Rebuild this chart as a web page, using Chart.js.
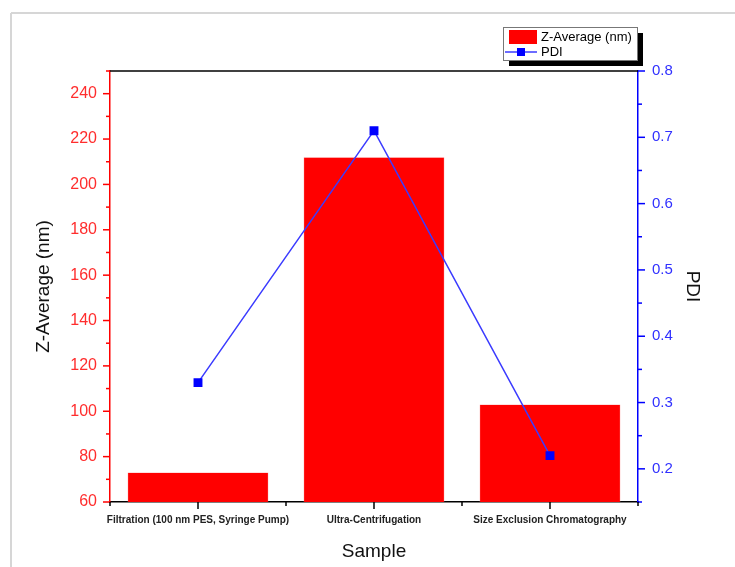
<!DOCTYPE html>
<html>
<head>
<meta charset="utf-8">
<title>Z-Average and PDI by sample</title>
<script src="https://cdn.jsdelivr.net/npm/chart.js@4.4.1/dist/chart.umd.min.js"></script>
<style>
  body { margin: 0; background: #fff; }
  #wrap { width: 735px; height: 567px; position: relative; }
</style>
</head>
<body>
<div id="wrap"><canvas id="chart" width="735" height="567"></canvas></div>
<script>
const categories = ['Filtration (100 nm PES, Syringe Pump)', 'Ultra-Centrifugation', 'Size Exclusion Chromatography'];
const zAverage = [73, 212, 103];
const pdi = [0.33, 0.71, 0.22];
const zRange = [60, 250];
const pdiRange = [0.15, 0.8];

const FONT = "'Liberation Sans', Arial, sans-serif";

// ticks, frame and legend drawn the way Origin does it
const originLook = {
    id: 'originLook',
    afterDraw(chart) {
        const { ctx, chartArea: a, scales } = chart;
        const line = (x1, y1, x2, y2) => {
            ctx.beginPath(); ctx.moveTo(x1, y1); ctx.lineTo(x2, y2); ctx.stroke();
        };
        ctx.save();

        // page frame
        ctx.strokeStyle = '#d6d6d6';
        ctx.lineWidth = 2;
        line(11, 13, 11, 567);
        line(11, 13, 735, 13);

        // top border
        ctx.strokeStyle = '#000';
        ctx.lineWidth = 1.5;
        line(a.left, a.top, a.right, a.top);

        // left ticks
        ctx.strokeStyle = '#ff0000';
        scales.y.ticks.forEach(t => {
            const py = scales.y.getPixelForValue(t.value);
            line(a.left - (t.label ? 7 : 4), py, a.left, py);
        });

        // right ticks
        ctx.strokeStyle = '#0000ff';
        scales.y1.ticks.forEach(t => {
            const py = scales.y1.getPixelForValue(t.value);
            line(a.right, py, a.right + (t.label ? 7 : 4), py);
        });

        // bottom ticks
        ctx.strokeStyle = '#000';
        const n = categories.length;
        const w = (a.right - a.left) / n;
        for (let i = 0; i <= n; i++) {
            line(a.left + i * w, a.bottom, a.left + i * w, a.bottom + 4);
        }
        categories.forEach((c, i) => {
            const px = scales.x.getPixelForValue(i);
            line(px, a.bottom, px, a.bottom + 7);
        });

        // legend
        const bars = chart.data.datasets.find(d => d.type === 'bar');
        const pts = chart.data.datasets.find(d => d.type === 'line');
        const lx = 503, ly = 27, lw = 134, lh = 33;
        ctx.fillStyle = '#000';
        ctx.fillRect(lx + 6, ly + 6, lw, lh);
        ctx.fillStyle = '#fff';
        ctx.fillRect(lx, ly, lw, lh);
        ctx.strokeStyle = '#777';
        ctx.lineWidth = 1;
        ctx.strokeRect(lx + 0.5, ly + 0.5, lw, lh);

        ctx.fillStyle = bars.backgroundColor;
        ctx.fillRect(lx + 6, ly + 3, 28, 14);
        ctx.strokeStyle = pts.borderColor;
        ctx.lineWidth = 1.5;
        line(lx + 2, ly + 25, lx + 34, ly + 25);
        ctx.fillStyle = pts.pointBackgroundColor;
        ctx.fillRect(lx + 14, ly + 21, 8, 8);

        ctx.fillStyle = '#000';
        ctx.font = '13px ' + FONT;
        ctx.textBaseline = 'middle';
        ctx.fillText(bars.label, lx + 38, ly + 10);
        ctx.fillText(pts.label, lx + 38, ly + 25);

        ctx.restore();
    }
};

new Chart(document.getElementById('chart'), {
    data: {
        labels: categories,
        datasets: [
            {
                type: 'line',
                label: 'PDI',
                data: pdi,
                yAxisID: 'y1',
                order: 0,
                borderColor: '#3b3bff',
                borderWidth: 1.5,
                pointStyle: 'rect',
                pointRadius: 6.3,
                pointBorderWidth: 0,
                pointBackgroundColor: '#0000ff',
                tension: 0
            },
            {
                type: 'bar',
                label: 'Z-Average (nm)',
                data: zAverage,
                yAxisID: 'y',
                order: 1,
                backgroundColor: '#ff0000',
                borderColor: '#ff8080',
                borderWidth: 0.5,
                barPercentage: 1,
                categoryPercentage: 0.8
            }
        ]
    },
    options: {
        responsive: false,
        animation: false,
        layout: { padding: { top: 71, left: 0, right: 0, bottom: 0 } },
        plugins: {
            legend: { display: false },
            tooltip: { enabled: false }
        },
        scales: {
            x: {
                offset: true,
                grid: { drawOnChartArea: false, tickLength: 7, tickColor: 'transparent' },
                border: { color: '#000', width: 1.5 },
                ticks: { color: '#222', font: { family: FONT, size: 10, weight: 'bold' }, padding: 5, maxRotation: 0, autoSkip: false },
                title: { display: true, text: 'Sample', color: '#111', font: { family: FONT, size: 19 }, padding: { top: 8 } },
                afterFit(scale) { scale.height = 65; }
            },
            y: {
                position: 'left',
                min: zRange[0],
                max: zRange[1],
                grid: { drawOnChartArea: false, tickLength: 7, tickColor: 'transparent' },
                border: { color: '#ff0000', width: 1.5 },
                ticks: {
                    stepSize: 10,
                    color: '#ff2d2d',
                    font: { family: FONT, size: 16 },
                    padding: 6,
                    callback: v => (v % 20 === 0 ? String(v) : '')
                },
                title: { display: true, text: 'Z-Average (nm)', color: '#111', font: { family: FONT, size: 19 }, padding: { top: 32 } },
                afterFit(scale) { scale.width = 110; }
            },
            y1: {
                position: 'right',
                min: pdiRange[0],
                max: pdiRange[1],
                grid: { drawOnChartArea: false, tickLength: 7, tickColor: 'transparent' },
                border: { color: '#0000ff', width: 1.5 },
                ticks: {
                    stepSize: 0.05,
                    color: '#3030ff',
                    font: { family: FONT, size: 15 },
                    padding: 7,
                    callback: v => (Math.abs(v * 10 - Math.round(v * 10)) < 1e-6 ? v.toFixed(1) : '')
                },
                title: { display: true, text: 'PDI', color: '#111', font: { family: FONT, size: 19 }, padding: { top: 31 } },
                afterFit(scale) { scale.width = 97; }
            }
        }
    },
    plugins: [originLook]
});
</script>
</body>
</html>
